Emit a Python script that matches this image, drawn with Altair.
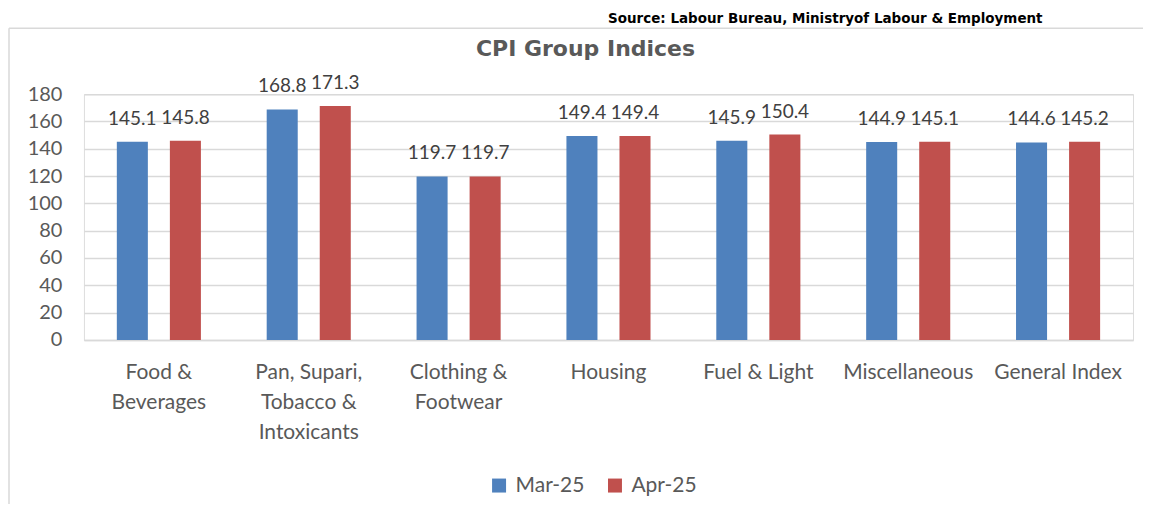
import altair as alt
import pandas as pd

categories = [
    "Food &\nBeverages",
    "Pan, Supari,\nTobacco &\nIntoxicants",
    "Clothing &\nFootwear",
    "Housing",
    "Fuel & Light",
    "Miscellaneous",
    "General Index",
]
series = ["Mar-25", "Apr-25"]
mar_values = [145.1, 168.8, 119.7, 149.4, 145.9, 144.9, 144.6]
apr_values = [145.8, 171.3, 119.7, 149.4, 150.4, 145.1, 145.2]
y_ticks = [0, 20, 40, 60, 80, 100, 120, 140, 160, 180]
title_text = "CPI Group Indices"
source_text = "Source: Labour   Bureau, Ministryof Labour & Employment"

rows = []
for c, m, a in zip(categories, mar_values, apr_values):
    rows.append({"category": c, "series": series[0], "value": m})
    rows.append({"category": c, "series": series[1], "value": a})
df = pd.DataFrame(rows)

FONT = "Lato"
GRAY = "#595959"
GRID = "#D9D9D9"

x = alt.X(
    "category:N",
    sort=categories,
    scale=alt.Scale(paddingInner=0, paddingOuter=0),
    axis=alt.Axis(
        title=None,
        labelAngle=0,
        labelExpr="split(datum.label, '\\n')",
        labelFont=FONT,
        labelFontSize=21,
        labelColor=GRAY,
        labelLineHeight=30,
        labelBaseline="top",
        labelPadding=22,
        ticks=False,
        domainColor=GRID,
        domainWidth=1.5,
        labelLimit=200,
    ),
)
xoff = alt.XOffset(
    "series:N",
    sort=series,
    scale=alt.Scale(paddingInner=0.415, paddingOuter=0.62),
)
y = alt.Y(
    "value:Q",
    scale=alt.Scale(domain=[0, 180]),
    axis=alt.Axis(
        title=None,
        values=y_ticks,
        labelFont=FONT,
        labelFontSize=20,
        labelColor=GRAY,
        labelPadding=22,
        ticks=False,
        domain=False,
        gridColor=GRID,
        gridWidth=1.5,
    ),
)

base = alt.Chart(df)
bars = base.mark_bar().encode(
    x=x,
    xOffset=xoff,
    y=y,
    color=alt.Color(
        "series:N",
        sort=series,
        scale=alt.Scale(domain=series, range=["#4F81BD", "#C0504D"]),
        legend=alt.Legend(
            title=None,
            orient="none",
            legendX=405,
            legendY=381,
            direction="horizontal",
            symbolType="square",
            symbolSize=196,
            symbolStrokeWidth=0,
            labelFont=FONT,
            labelFontSize=21,
            labelColor=GRAY,
            labelOffset=6,
            columnPadding=20,
        ),
    ),
)
labels = base.mark_text(
    font=FONT, fontSize=19, color="#404040", baseline="alphabetic", dy=-17
).encode(x=x, xOffset=xoff, y=y, text=alt.Text("value:Q", format=".1f"))

tdf = pd.DataFrame({"t": [title_text]})
title = alt.Chart(tdf).mark_text(
    font="DejaVu Sans", fontSize=22, fontWeight="bold", color=GRAY,
    align="center", baseline="middle",
).encode(x=alt.value(502), y=alt.value(-45), text="t:N")

sdf = pd.DataFrame({"s": [source_text]})
source = alt.Chart(sdf).mark_text(
    font="DejaVu Sans", fontSize=13.5, fontWeight="bold", color="#000000",
    align="center", baseline="alphabetic",
).encode(x=alt.value(742), y=alt.value(-71), text="s:N")

border_top = alt.Chart(tdf).mark_rule(color=GRID, strokeWidth=1.5).encode(
    x=alt.value(-75), x2=alt.value(1070), y=alt.value(-66)
)
border_left = alt.Chart(tdf).mark_rule(color=GRID, strokeWidth=1.5).encode(
    x=alt.value(-75), y=alt.value(-66), y2=alt.value(440)
)

chart = (
    alt.layer(border_top, border_left, bars, labels, title, source)
    .properties(
        width=1050,
        height=246,
        autosize=alt.AutoSizeParams(type="none"),
        padding={"left": 76, "top": 86, "right": 10, "bottom": 164},
    )
    .configure_view(stroke=None)
    .configure(background="#FFFFFF")
)

chart.save("out.html", embed_options={"renderer": "svg", "actions": False})
